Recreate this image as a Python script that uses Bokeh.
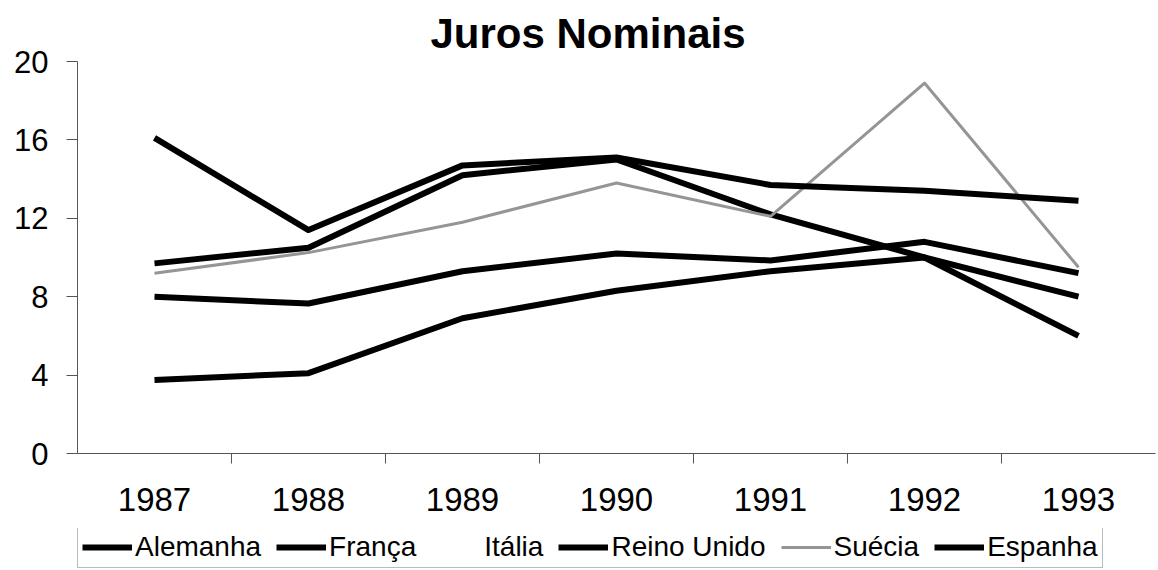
from bokeh.plotting import figure
from bokeh.layouts import column
from bokeh.models import Range1d, FixedTicker, Legend, LegendItem, ColumnDataSource
from bokeh.embed import file_html
from bokeh.resources import INLINE

years = [1987, 1988, 1989, 1990, 1991, 1992, 1993]
alemanha = [3.75, 4.1, 6.9, 8.3, 9.3, 10.0, 8.0]
franca = [8.0, 7.65, 9.3, 10.2, 9.85, 10.8, 9.2]
italia = []
reino_unido = [9.7, 10.5, 14.2, 15.0, 12.2, 10.0, 6.0]
suecia = [9.2, 10.25, 11.8, 13.8, 12.1, 18.9, 9.5]
espanha = [16.1, 11.4, 14.7, 15.1, 13.7, 13.4, 12.9]
y_ticks = [0, 4, 8, 12, 16, 20]

FONT = "Liberation Sans"

p = figure(width=1158, height=528, output_backend="svg", toolbar_location=None,
           x_range=Range1d(years[0] - 0.5, years[-1] + 0.5), y_range=Range1d(0, 20),
           min_border_left=77, min_border_right=3, min_border_top=61, min_border_bottom=75)
p.outline_line_color = None
p.xgrid.visible = False
p.ygrid.visible = False

p.title.text = "Juros Nominais"
p.title.text_font = FONT
p.title.text_font_size = "42px"
p.title.text_font_style = "bold"
p.title.text_color = "black"
p.title.align = "left"
p.title.offset = 353
p.title.standoff = 9

series = [
    ("Alemanha", alemanha, "black", 6),
    ("França", franca, "black", 6),
    ("Itália", italia, "white", 6),
    ("Reino Unido", reino_unido, "black", 6),
    ("Suécia", suecia, "#959595", 3),
    ("Espanha", espanha, "black", 6),
]

# legend-only strip under the chart (its ranges keep the proxy lines out of view)
lf = figure(width=1158, height=42, output_backend="svg", toolbar_location=None,
            x_range=Range1d(0, 1), y_range=Range1d(0, 1),
            x_axis_type=None, y_axis_type=None,
            min_border_left=0, min_border_right=0, min_border_top=0, min_border_bottom=0)
lf.outline_line_color = None
lf.xgrid.visible = False
lf.ygrid.visible = False

items = []
for name, vals, col, w in series:
    src = ColumnDataSource(dict(x=years[:len(vals)], y=vals))
    p.line("x", "y", source=src, line_color=col, line_width=w, line_join="round")
    proxy = lf.line("x", "y", source=src, line_color=col, line_width=w)
    items.append(LegendItem(label=name, renderers=[proxy]))

# y axis
ya = p.yaxis[0]
ya.ticker = FixedTicker(ticks=y_ticks)
ya.bounds = (-0.5, 20)
ya.major_tick_out = 11
ya.major_tick_in = 0
ya.minor_tick_out = 0
ya.minor_tick_in = 0
ya.major_label_standoff = 18
ya.major_label_text_font = FONT
ya.major_label_text_font_size = "31px"
ya.major_label_text_color = "black"
ya.axis_line_color = "#555555"
ya.major_tick_line_color = "#555555"

# x axis: labels at years, tick marks between categories
xa = p.xaxis[0]
xa.ticker = FixedTicker(ticks=years, minor_ticks=[y + 0.5 for y in years[:-1]])
xa.major_tick_out = 0
xa.major_tick_in = 0
xa.minor_tick_out = 10
xa.minor_tick_in = 0
xa.major_label_standoff = 24
xa.major_label_text_font = FONT
xa.major_label_text_font_size = "33px"
xa.major_label_text_color = "black"
xa.axis_line_color = "#555555"
xa.minor_tick_line_color = "#555555"
xa.formatter.use_scientific = False

legend = Legend(items=items, orientation="horizontal", location=(0, 2),
                label_text_font=FONT, label_text_font_size="28px", label_text_color="black",
                glyph_width=50, glyph_height=20, label_standoff=3, spacing=15,
                padding=4, margin=0, border_line_color="#777777", border_line_width=1,
                background_fill_color="white", background_fill_alpha=1.0)
lf.add_layout(legend)

layout = column(p, lf, spacing=0)
open("out.html", "w").write(file_html(layout, INLINE))
